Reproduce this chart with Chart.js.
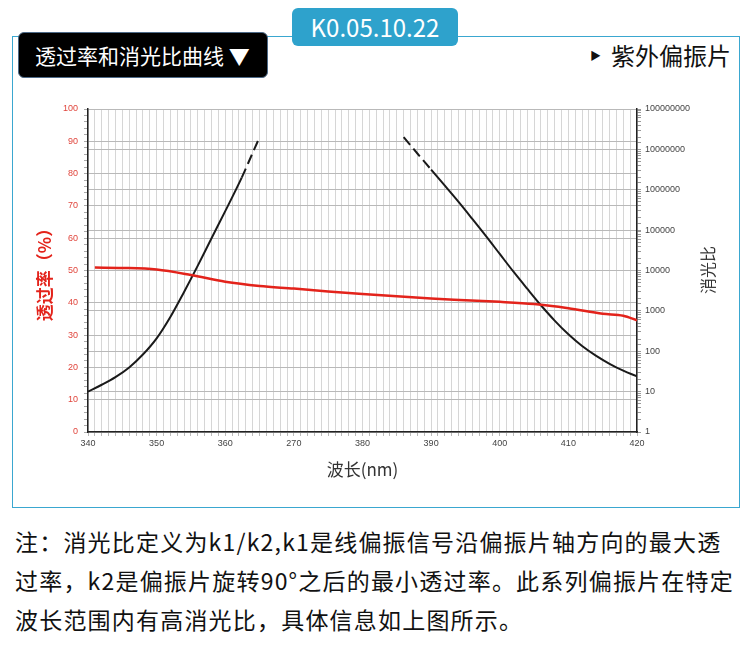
<html lang="zh">
<head>
  <meta charset="UTF-8">
  <title>透过率和消光比曲线</title>
  <script src="https://cdn.jsdelivr.net/npm/chart.js"></script>
  <style>
    body { margin: 0; width: 750px; height: 655px; background: #fff; position: relative; overflow: hidden;
           font-family: "Noto Sans CJK SC", "Noto Sans", sans-serif; }
    #frame { position: absolute; left: 12px; top: 36px; width: 728px; height: 472px; box-sizing: border-box;
             border: 1.5px solid #3aa7d0; }
    #badge { position: absolute; left: 292px; top: 8px; width: 166px; height: 38px; background: #2ea2cc;
             border-radius: 6px; color: #fff; font-size: 24px; line-height: 38px; text-align: center; }
    #tab { position: absolute; left: 18px; top: 32px; width: 250px; height: 46px; box-sizing: border-box;
           background: #000; border: 1px solid #4d6a88; border-radius: 6px; color: #fff; font-size: 21px;
           line-height: 44px; padding-left: 16px; white-space: nowrap; }
    #kind { position: absolute; left: 590px; top: 37px; font-size: 24px; color: #111; white-space: nowrap; }
    #kind small { font-size: 11px; vertical-align: 5px; margin-right: 10px; }
    #wrap { position: absolute; left: 14px; top: 90px; width: 724px; height: 405px; }
    #rtitle { position: absolute; left: 707px; top: 270px; transform: translate(-50%, -50%) rotate(-90deg);
              font-size: 16px; color: #333; white-space: nowrap; }
    #note { position: absolute; left: 15px; top: 522px; font-size: 23px; line-height: 39px; color: #111;
            letter-spacing: 1.2px; white-space: nowrap; }
  </style>
</head>
<body>
  <div id="frame"></div>
  <div id="badge">K0.05.10.22</div>
  <div id="tab">透过率和消光比曲线 ▼</div>
  <div id="kind"><small>▶</small>紫外偏振片</div>
  <div id="wrap"><canvas id="viz"></canvas></div>
  <div id="rtitle">消光比</div>
  <div id="note">
    注：消光比定义为k1/k2,k1是线偏振信号沿偏振片轴方向的最大透<br>
    过率，k2是偏振片旋转90°之后的最小透过率。此系列偏振片在特定<br>
    波长范围内有高消光比，具体信息如上图所示。
  </div>

  <script>
    // x tick labels as printed (the 270 is in the original)
    const xTickLabels = { 340: '340', 350: '350', 360: '360', 370: '270', 380: '380', 390: '390', 400: '400', 410: '410', 420: '420' }

    // transmittance (%), left axis
    const transX = [341, 345, 350, 355, 360, 365, 370, 375, 380, 385, 390, 395, 400, 405, 410, 415, 418, 420]
    const transY = [50.9, 50.8, 50.3, 48.6, 46.5, 45.2, 44.4, 43.5, 42.7, 42.0, 41.3, 40.8, 40.3, 39.6, 38.3, 36.6, 36.0, 34.6]

    // extinction ratio, right log axis - short wavelength branch
    const ratioLeftX = [340, 342, 344, 346, 348, 350, 352, 354, 356, 358, 360, 362.4, 363.7, 365]
    const ratioLeftY = [10, 14.8, 22.9, 39.8, 83, 209, 708, 2950, 13200, 63100, 295000, 2000000, 6300000, 20000000]
    const leftDashFrom = 362.4

    // long wavelength branch
    const ratioRightX = [386, 388, 390, 392, 394, 396, 398, 400, 402, 404, 406, 408, 410, 412, 414, 416, 418, 420]
    const ratioRightY = [20000000, 7900000, 3160000, 1260000, 500000, 190000, 71000, 25700, 9330, 3550, 1380, 575, 263, 135, 78, 49, 33, 24]
    const rightDashTo = 390

    const pts = (xs, ys) => xs.map((x, i) => ({ x: x, y: ys[i] }))
    const isPow10 = v => Math.abs(Math.log10(v) - Math.round(Math.log10(v))) < 1e-9

    const ctx = document.getElementById('viz')
    const chart = new Chart(ctx, {
      type: 'line',
      data: {
        datasets: [{
          label: '透过率',
          data: pts(transX, transY),
          yAxisID: 'y',
          borderColor: '#e3231b',
          borderWidth: 2.5,
          pointRadius: 0,
          cubicInterpolationMode: 'monotone'
        }, {
          label: '消光比',
          data: pts(ratioLeftX, ratioLeftY),
          yAxisID: 'y1',
          borderColor: '#1a1a1a',
          borderWidth: 2,
          pointRadius: 0,
          cubicInterpolationMode: 'monotone',
          segment: { borderDash: c => c.p0.parsed.x >= leftDashFrom ? [10, 5] : undefined }
        }, {
          label: '消光比2',
          data: pts(ratioRightX, ratioRightY),
          yAxisID: 'y1',
          borderColor: '#1a1a1a',
          borderWidth: 2,
          pointRadius: 0,
          cubicInterpolationMode: 'monotone',
          segment: { borderDash: c => c.p1.parsed.x <= rightDashTo ? [10, 5] : undefined }
        }]
      },
      options: {
        responsive: true,
        maintainAspectRatio: false,
        animation: false,
        layout: { padding: { left: 20, top: 19, right: 0, bottom: 0 } },
        plugins: { legend: { display: false }, tooltip: { enabled: false } },
        scales: {
          x: {
            type: 'linear',
            min: 340,
            max: 420,
            afterFit: s => { s.height = 63 },
            border: { color: '#222', width: 1.5 },
            grid: { color: '#d6d6d6', tickColor: '#bbb', tickLength: 4 },
            ticks: {
              stepSize: 1,
              autoSkip: false,
              maxRotation: 0,
              padding: 2,
              color: '#444',
              font: { family: 'Liberation Sans', size: 9 },
              callback: v => xTickLabels[v] || ''
            },
            title: {
              display: true,
              text: '波长(nm)',
              color: '#333',
              font: { family: 'Noto Sans CJK SC', size: 17 },
              padding: { top: 0, bottom: 15 }
            }
          },
          y: {
            position: 'left',
            min: 0,
            max: 100,
            afterFit: s => { s.width = 54 },
            border: { color: '#222', width: 1.5 },
            grid: {
              color: c => (c.tick && c.tick.value % 10 === 0) ? '#b9b9b9' : 'transparent',
              tickColor: '#aaa',
              tickLength: 4
            },
            ticks: {
              stepSize: 2,
              autoSkip: false,
              padding: 6,
              color: '#e0453c',
              font: { family: 'Liberation Sans', size: 9 },
              callback: v => v % 10 === 0 ? String(v) : ''
            },
            title: {
              display: true,
              text: '透过率（%）',
              color: '#e3231b',
              font: { family: 'Noto Sans CJK SC', size: 17, weight: 'bold' },
              padding: { top: 0, bottom: 0 }
            }
          },
          y1: {
            type: 'logarithmic',
            position: 'right',
            min: 1,
            max: 100000000,
            afterFit: s => { s.width = 101 },
            border: { color: '#222', width: 1.5 },
            grid: {
              color: c => (c.tick && isPow10(c.tick.value)) ? '#b9b9b9' : 'transparent',
              tickColor: '#999',
              tickLength: 4
            },
            ticks: {
              autoSkip: false,
              padding: 4,
              color: '#444',
              font: { family: 'Liberation Sans', size: 9 },
              callback: v => isPow10(v) ? String(Math.round(v)) : ''
            }
          }
        }
      }
    })
  </script>
</body>
</html>
